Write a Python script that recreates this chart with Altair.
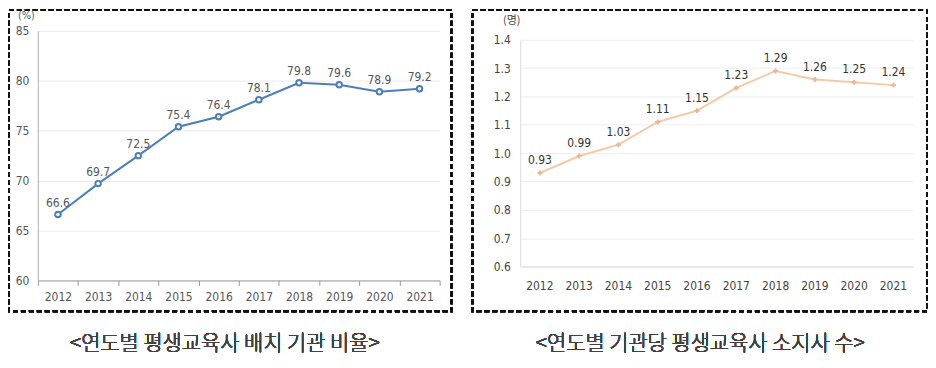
import altair as alt
import pandas as pd

years = ["2012", "2013", "2014", "2015", "2016", "2017", "2018", "2019", "2020", "2021"]
ratio = [66.6, 69.7, 72.5, 75.4, 76.4, 78.1, 79.8, 79.6, 78.9, 79.2]
per_inst = [0.93, 0.99, 1.03, 1.11, 1.15, 1.23, 1.29, 1.26, 1.25, 1.24]
left_ticks = [60, 65, 70, 75, 80, 85]
right_ticks = [0.6, 0.7, 0.8, 0.9, 1.0, 1.1, 1.2, 1.3, 1.4]
left_caption = "<연도별 평생교육사 배치 기관 비율>"
right_caption = "<연도별 기관당 평생교육사 소지사 수>"

FONT = "Liberation Sans Narrow, DejaVu Sans Condensed, Roboto, sans-serif"
KFONT = "Noto Sans CJK KR"

df1 = pd.DataFrame({"year": years, "v": ratio})
df2 = pd.DataFrame({"year": years, "v": per_inst})

BLUE = "#4a7fba"
PEACH = "#f3cba8"

# ---------- left panel ----------
xl = alt.X("year:O", title=None,
           scale=alt.Scale(type="band", paddingInner=0, paddingOuter=0),
           axis=alt.Axis(labelAngle=0, tickBand="extent", tickSize=5, tickColor="#9a9a9a",
                         domainColor="#9a9a9a", labelColor="#555555", labelFont=FONT,
                         labelFontSize=12, labelPadding=6, grid=False))
yl = alt.Y("v:Q", scale=alt.Scale(domain=[60, 85]),
           axis=alt.Axis(values=left_ticks, title="(%)", titleAngle=0, titleX=-12, titleY=-15,
                         titleAlign="center", titleBaseline="middle", titleFont=FONT,
                         titleFontSize=11, titleFontWeight="normal", titleColor="#555555",
                         ticks=False, domainColor="#b0b0b0", gridColor="#ebebeb",
                         labelColor="#555555", labelFont=FONT, labelFontSize=12, labelPadding=9))
base1 = alt.Chart(df1).encode(x=xl, y=yl)
line1 = base1.mark_line(color=BLUE, strokeWidth=2)
pts1 = base1.mark_point(shape="circle", filled=True, fill="white", stroke=BLUE,
                        strokeWidth=2, size=30, opacity=1)
lab1 = base1.mark_text(dy=-12, font=FONT, fontSize=12, color="#555555").encode(
    text=alt.Text("v:Q", format=".1f"))
box1 = alt.Chart(df1).mark_rect(filled=False, stroke="#111111", strokeWidth=2,
                                strokeDash=[5, 3]).encode(
    x=alt.value(-29), x2=alt.value(416), y=alt.value(-21), y2=alt.value(282))
cap1 = alt.Chart(df1).mark_text(font=KFONT, fontSize=21, fontWeight=300,
                                color="#404040").encode(
    x=alt.value(188), y=alt.value(315), text=alt.value(left_caption))
left = alt.layer(box1, line1, pts1, lab1, cap1).properties(width=404, height=251)

# ---------- right panel ----------
xr = alt.X("year:O", title=None,
           scale=alt.Scale(type="band", paddingInner=0, paddingOuter=0),
           axis=alt.Axis(labelAngle=0, ticks=False, domainColor="#dcdcdc",
                         labelColor="#444444", labelFont=FONT, labelFontSize=12,
                         labelPadding=14, grid=False))
yr = alt.Y("v:Q", scale=alt.Scale(domain=[0.6, 1.4], range=[237, 9]),
           axis=alt.Axis(values=right_ticks, format=".1f", title="(명)", titleAngle=0,
                         titleX=-9, titleY=-10, titleAlign="center", titleBaseline="middle",
                         titleFont=KFONT, titleFontSize=11, titleFontWeight="normal",
                         titleColor="#444444", ticks=False, domainColor="#dcdcdc",
                         gridColor="#ededed", labelColor="#444444", labelFont=FONT,
                         labelFontSize=12, labelPadding=10))
base2 = alt.Chart(df2).encode(x=xr, y=yr)
line2 = base2.mark_line(color=PEACH, strokeWidth=2)
pts2 = base2.mark_point(shape="cross", filled=True, color="#eab892", size=25, opacity=1)
lab2 = base2.mark_text(dy=-13, font=FONT, fontSize=12, color="#333333").encode(
    text=alt.Text("v:Q", format=".2f"))
box2 = alt.Chart(df2).mark_rect(filled=False, stroke="#111111", strokeWidth=2,
                                strokeDash=[5, 3]).encode(
    x=alt.value(-48), x2=alt.value(409), y=alt.value(-21), y2=alt.value(282))
cap2 = alt.Chart(df2).mark_text(font=KFONT, fontSize=21, fontWeight=300,
                                color="#404040").encode(
    x=alt.value(181), y=alt.value(315), text=alt.value(right_caption))
right = alt.layer(box2, line2, pts2, lab2, cap2).properties(width=395, height=237)

chart = alt.hconcat(left, right, spacing=81, bounds="flush").properties(
    padding=0, background="white"
).configure_view(stroke=None)

chart.save("out.html", embed_options={"renderer": "svg", "actions": False})
